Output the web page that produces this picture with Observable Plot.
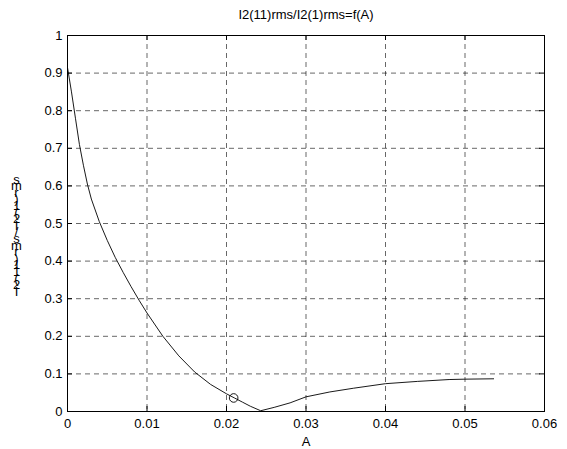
<!DOCTYPE html>
<html><head><meta charset="utf-8">
<script src="https://cdn.jsdelivr.net/npm/d3@7"></script>
<script src="https://cdn.jsdelivr.net/npm/@observablehq/plot@0.6"></script>
<style>body{margin:0;background:#fff}</style>
</head><body><div id="chart"></div>
<script>
// ---- data ----
const A =     [0, 0.0005, 0.001, 0.0015, 0.002, 0.0025, 0.003, 0.004, 0.005, 0.006, 0.007, 0.008, 0.009, 0.010, 0.012, 0.014, 0.016, 0.018, 0.020, 0.021, 0.022, 0.023, 0.0243, 0.026, 0.028, 0.030, 0.033, 0.036, 0.040, 0.044, 0.048, 0.050, 0.0536];
const ratio = [0.915, 0.85, 0.78, 0.71, 0.655, 0.605, 0.565, 0.505, 0.455, 0.41, 0.37, 0.332, 0.296, 0.262, 0.20, 0.148, 0.105, 0.072, 0.047, 0.036, 0.025, 0.014, 0.002, 0.011, 0.023, 0.039, 0.052, 0.062, 0.074, 0.080, 0.085, 0.086, 0.087];
const pointA = [0.0209];
const pointRatio = [0.036];
const xTicks = [0, 0.01, 0.02, 0.03, 0.04, 0.05, 0.06];
const yTicks = [0, 0.1, 0.2, 0.3, 0.4, 0.5, 0.6, 0.7, 0.8, 0.9, 1];
const titleText = "I2(11)rms/I2(1)rms=f(A)";
const xLabel = "A";
const yLabel = "I2(11)rms/I2(1)rms";

// ---- layout ----
const W = 567, H = 449, mL = 67, mR = 23, mT = 35, mB = 38;
const fw = W - mL - mR, fh = H - mT - mB;
const fontPx = 13;
const lineData = A.map((a, i) => ({a, r: ratio[i]}));
const pointData = pointA.map((a, i) => ({a, r: pointRatio[i]}));

// y label: MATLAB-style stacked upright glyphs (reversed order), one text block
const stacked = yLabel.split("").reverse().join("\n");

const fontFamily = "'Liberation Sans', Arial, Helvetica, sans-serif";

const chart = Plot.plot({
  width: W, height: H,
  marginLeft: mL, marginRight: mR, marginTop: mT, marginBottom: mB,
  style: {fontFamily, fontSize: fontPx + "px", background: "#fff", color: "#000"},
  x: {domain: [0, 0.06]},
  y: {domain: [0, 1]},
  marks: [
    Plot.gridX(xTicks.slice(1, -1), {stroke: "#000", strokeOpacity: 1, strokeWidth: 0.6, strokeDasharray: "5,4"}),
    Plot.gridY(yTicks.slice(1, -1), {stroke: "#000", strokeOpacity: 1, strokeWidth: 0.6, strokeDasharray: "5,4"}),
    Plot.tickX(xTicks, {x: d => d, insetTop: fh - 5, stroke: "#000"}),
    Plot.tickX(xTicks, {x: d => d, insetBottom: fh - 5, stroke: "#000"}),
    Plot.tickY(yTicks, {y: d => d, insetRight: fw - 5, stroke: "#000"}),
    Plot.tickY(yTicks, {y: d => d, insetLeft: fw - 5, stroke: "#000"}),
    Plot.axisX({ticks: xTicks, tickSize: 0, tickPadding: 7, tickFormat: d => String(d), label: null}),
    Plot.axisY({ticks: yTicks, tickSize: 0, tickPadding: 5, tickFormat: d => String(d), label: null}),
    Plot.line(lineData, {x: "a", y: "r", stroke: "#000", strokeWidth: 0.9}),
    Plot.dot(pointData, {x: "a", y: "r", r: 4.3, stroke: "#000", fill: "none", strokeWidth: 0.9}),
    Plot.frame({stroke: "#000", strokeWidth: 1}),
    Plot.text([titleText], {frameAnchor: "top", dy: -21, lineAnchor: "middle", fill: "#000"}),
    Plot.text([xLabel], {frameAnchor: "bottom", dy: 30.8, lineAnchor: "middle", fill: "#000"}),
    Plot.text([stacked], {frameAnchor: "left", dx: -51, dy: 14, lineAnchor: "middle", textAnchor: "middle", lineHeight: 6.6 / fontPx, fill: "#000"})
  ]
});
document.getElementById("chart").appendChild(chart);
</script>
</body></html>
